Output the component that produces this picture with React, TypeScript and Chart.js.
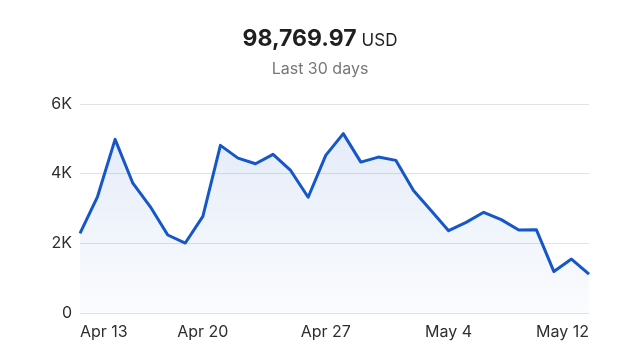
import React, { useEffect, useRef } from "react";
import { Chart, registerables } from "chart.js";

Chart.register(...registerables);

const TOTAL_LABEL = "98,769.97";
const CURRENCY = "USD";
const PERIOD = "Last 30 days";

const DATES = [
  "Apr 13", "Apr 14", "Apr 15", "Apr 16", "Apr 17", "Apr 18", "Apr 19",
  "Apr 20", "Apr 21", "Apr 22", "Apr 23", "Apr 24", "Apr 25", "Apr 26",
  "Apr 27", "Apr 28", "Apr 29", "Apr 30", "May 1", "May 2", "May 3",
  "May 4", "May 5", "May 6", "May 7", "May 8", "May 9", "May 10",
  "May 11", "May 12",
];

const VALUES = [
  2285, 3343, 4986, 3738, 3055, 2239, 2009,
  2775, 4813, 4447, 4285, 4554, 4092, 3323,
  4525, 5150, 4332, 4476, 4381, 3516, 2940,
  2363, 2602, 2891, 2680, 2383, 2392, 1190,
  1548, 1115,
];

const SHOWN_X_TICKS = ["Apr 13", "Apr 20", "Apr 27", "May 4", "May 12"];
const Y_TICKS = [0, 2000, 4000, 6000];

const FONT = "Inter, 'Noto Sans', sans-serif";

export default function App() {
  const canvasRef = useRef<HTMLCanvasElement | null>(null);

  useEffect(() => {
    const canvas = canvasRef.current;
    if (!canvas) return;
    const chart = new Chart(canvas, {
      type: "line",
      data: {
        labels: DATES,
        datasets: [
          {
            data: VALUES,
            borderColor: "#1657c8",
            borderWidth: 3,
            pointRadius: 0,
            tension: 0,
            fill: "origin",
            borderJoinStyle: "round",
            backgroundColor: (ctx: any) => {
              const area = ctx.chart.chartArea;
              if (!area) return "rgba(26,86,200,0.08)";
              const g = ctx.chart.ctx.createLinearGradient(0, area.top, 0, area.bottom);
              g.addColorStop(0, "rgba(26,86,200,0.13)");
              g.addColorStop(1, "rgba(26,86,200,0.02)");
              return g;
            },
          },
        ],
      },
      options: {
        responsive: false,
        animation: false,
        maintainAspectRatio: false,
        layout: { padding: { top: 104, right: 51, bottom: 0, left: 0 } },
        plugins: {
          legend: { display: false },
          tooltip: { enabled: false },
          title: { display: false },
        },
        scales: {
          x: {
            grid: { display: false, drawTicks: false },
            border: { display: false },
            ticks: {
              autoSkip: false,
              maxRotation: 0,
              minRotation: 0,
              align: "inner",
              padding: 10,
              color: "#2e2e2e",
              font: { family: FONT, size: 16 },
              callback: (_v: any, i: number) =>
                SHOWN_X_TICKS.includes(DATES[i]) ? DATES[i] : "",
            },
            afterFit: (scale: any) => {
              scale.height = 47;
            },
          },
          y: {
            min: Y_TICKS[0],
            max: Y_TICKS[Y_TICKS.length - 1],
            grid: { color: "#e2e2e4", lineWidth: 1, drawTicks: false },
            border: { display: false },
            afterBuildTicks: (scale: any) => {
              scale.ticks = Y_TICKS.map((v) => ({ value: v }));
            },
            ticks: {
              padding: 8,
              color: "#2e2e2e",
              font: { family: FONT, size: 16 },
              callback: (v: any) => (Number(v) === 0 ? "0" : Number(v) / 1000 + "K"),
            },
            afterFit: (scale: any) => {
              scale.width = 80;
            },
          },
        },
      },
    });
    return () => chart.destroy();
  }, []);

  return (
    <div
      style={{
        position: "fixed",
        left: 0,
        top: 0,
        width: 640,
        height: 360,
        background: "#ffffff",
        fontFamily: FONT,
        overflow: "hidden",
      }}
    >
      <canvas
        ref={canvasRef}
        width={640}
        height={360}
        style={{ position: "absolute", left: 0, top: 0, width: 640, height: 360 }}
      />
      <div
        style={{
          position: "absolute",
          top: 27,
          left: 0,
          width: 640,
          display: "flex",
          justifyContent: "center",
          alignItems: "baseline",
          color: "#1f1f1f",
        }}
      >
        <span style={{ fontSize: 23, fontWeight: 700, lineHeight: "23px" }}>{TOTAL_LABEL}</span>
        <span style={{ fontSize: 17, fontWeight: 400, lineHeight: "17px", marginLeft: 5 }}>{CURRENCY}</span>
      </div>
      <div
        style={{
          position: "absolute",
          top: 60,
          left: 0,
          width: 640,
          textAlign: "center",
          fontSize: 16,
          lineHeight: "16px",
          color: "#777777",
        }}
      >
        {PERIOD}
      </div>
    </div>
  );
}
